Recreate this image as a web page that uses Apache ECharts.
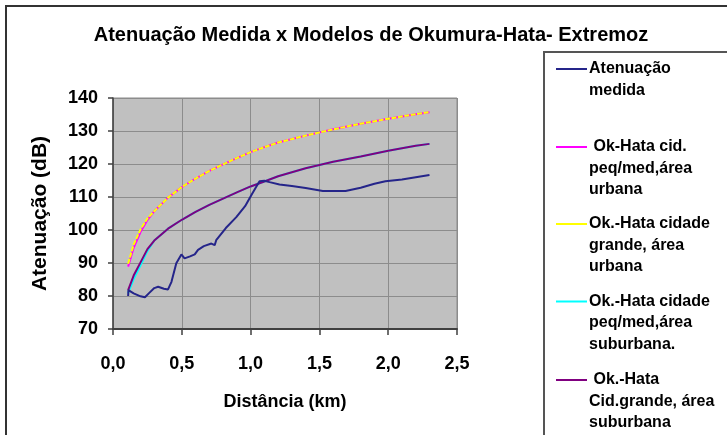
<!DOCTYPE html>
<html>
<head>
<meta charset="utf-8">
<script src="https://cdn.jsdelivr.net/npm/echarts@6.0.0/dist/echarts.min.js"></script>
<style>
html,body{margin:0;padding:0;background:#fff;}
#chart{width:727px;height:435px;}
</style>
</head>
<body>
<div id="chart"></div>
<script>
// ---- data ----
var titleText = 'Atenuação Medida x Modelos de Okumura-Hata- Extremoz';
var xName = 'Distância (km)';
var yName = 'Atenuação (dB)';
var xTicks = [0, 0.5, 1.0, 1.5, 2.0, 2.5];
var yTicks = [70, 80, 90, 100, 110, 120, 130, 140];

var seriesNames = [
  'Atenuação medida',
  ' Ok-Hata cid. peq/med,área urbana',
  'Ok.-Hata cidade grande, área urbana',
  'Ok.-Hata cidade peq/med,área suburbana.',
  ' Ok.-Hata Cid.grande, área suburbana'
];
var legendTexts = [
  'Atenuação\nmedida',
  ' Ok-Hata cid.\npeq/med,área\nurbana',
  'Ok.-Hata cidade\ngrande, área\nurbana',
  'Ok.-Hata cidade\npeq/med,área\nsuburbana.',
  ' Ok.-Hata\nCid.grande, área\nsuburbana'
];

var measDist = [0.11,0.112,0.15,0.2,0.232,0.26,0.3,0.328,0.37,0.4,0.425,0.46,0.497,0.52,0.56,0.594,0.618,0.66,0.715,0.739,0.75,0.82,0.896,0.96,1.005,1.04,1.065,1.1,1.138,1.21,1.3,1.4,1.525,1.6,1.69,1.8,1.9,1.98,2.1,2.2,2.3];
var measVals = [80,81.8,80.8,79.9,79.6,80.8,82.4,82.8,82.2,82,84.3,89.9,92.6,91.4,92.0,92.6,94,95.1,95.9,95.4,96.9,100.6,103.9,107.2,110.5,113,114.8,114.9,114.5,113.8,113.3,112.7,111.8,111.8,111.8,112.8,114,114.8,115.3,116,116.7];

var hataDist = [0.11,0.15,0.2,0.25,0.3,0.4,0.5,0.6,0.7,0.8,0.9,1.0,1.1,1.2,1.4,1.6,1.8,2.0,2.2,2.3];
var urbanSmall = [88.9,94.6,99.4,103.0,105.7,109.8,113,115.6,117.9,119.9,121.8,123.6,125.1,126.5,128.6,130.5,132.2,133.7,135.1,135.7];
var urbanLarge = [89.8,95.6,100.2,103.5,105.7,109.8,113,115.6,117.9,119.9,121.8,123.6,125.1,126.5,128.6,130.5,132.2,133.7,135.1,135.7];
var suburbSmall = [80.9,85.1,89.3,93.6,96.8,100.4,103.1,105.5,107.6,109.5,111.4,113.2,114.7,116.3,118.7,120.7,122.3,124.0,125.5,126.1];
var suburbLarge = [81.8,86.2,90.2,94.2,96.8,100.4,103.1,105.5,107.6,109.5,111.4,113.2,114.7,116.3,118.7,120.7,122.3,124.0,125.5,126.1];

var colors = ['#25258a', '#ff00ff', '#ffff00', '#00ffff', '#800080'];

// ---- build ----
function pairs(xs, ys) { return xs.map(function (x, i) { return [x, ys[i]]; }); }
var seriesData = [
  pairs(measDist, measVals),
  pairs(hataDist, urbanSmall),
  pairs(hataDist, urbanLarge),
  pairs(hataDist, suburbSmall),
  pairs(hataDist, suburbLarge)
];
var zOrder = [5, 2, 3, 2, 3];
var lineTypes = ['solid', 'solid', [5, 1.5], 'solid', 'solid'];

var FONT = '"Liberation Sans", Arial, sans-serif';
var chart = echarts.init(document.getElementById('chart'), null, {renderer: 'canvas'});

var legendY = [69, 147, 224, 301.5, 380];
var legendGraphics = [];
legendGraphics.push({
  type: 'rect', z: 0,
  shape: {x: 544, y: 52, width: 220, height: 420},
  style: {fill: '#ffffff', stroke: '#555555', lineWidth: 2}
});
legendTexts.forEach(function (t, i) {
  legendGraphics.push({
    type: 'line', z: 1,
    shape: {x1: 556, y1: legendY[i], x2: 587, y2: legendY[i]},
    style: {stroke: colors[i], lineWidth: 2}
  });
  legendGraphics.push({
    type: 'text', z: 1,
    style: {
      x: 589, y: legendY[i] - 10.75, text: t,
      font: 'bold 16px ' + FONT, lineHeight: 21.5,
      fill: '#000', verticalAlign: 'top', align: 'left'
    }
  });
});

var option = {
  backgroundColor: '#ffffff',
  animation: false,
  title: {
    text: titleText,
    left: 371, top: 25, textAlign: 'center', padding: 0,
    textStyle: {fontFamily: FONT, fontWeight: 'bold', fontSize: 20, color: '#000'}
  },
  grid: {
    left: 113, right: 270, top: 98, bottom: 106,
    show: true, backgroundColor: '#c0c0c0', borderColor: '#8a8a8a', borderWidth: 1,
    containLabel: false
  },
  xAxis: {
    type: 'value', min: xTicks[0], max: xTicks[xTicks.length - 1], interval: 0.5,
    name: xName, nameLocation: 'middle', nameGap: 64,
    nameTextStyle: {fontFamily: FONT, fontWeight: 'bold', fontSize: 18, color: '#000'},
    axisLine: {show: true, lineStyle: {color: '#404040', width: 2}},
    axisTick: {show: true, inside: false, length: 6, lineStyle: {color: '#404040', width: 1.5}},
    axisLabel: {
      margin: 26, fontFamily: FONT, fontWeight: 'bold', fontSize: 18, color: '#000',
      formatter: function (v) { return v.toFixed(1).replace('.', ','); }
    },
    splitLine: {show: true, lineStyle: {color: '#8c8c8c', width: 1}}
  },
  yAxis: {
    type: 'value', min: yTicks[0], max: yTicks[yTicks.length - 1], interval: 10,
    name: yName, nameLocation: 'middle', nameGap: 62,
    nameTextStyle: {fontFamily: FONT, fontWeight: 'bold', fontSize: 21, color: '#000'},
    axisLine: {show: true, lineStyle: {color: '#404040', width: 1.5}},
    axisTick: {show: true, inside: false, length: 5, lineStyle: {color: '#404040', width: 1.5}},
    axisLabel: {margin: 15, fontFamily: FONT, fontWeight: 'bold', fontSize: 18, color: '#000'},
    splitLine: {show: true, lineStyle: {color: '#8c8c8c', width: 1}}
  },
  series: seriesNames.map(function (n, i) {
    return {
      name: n, type: 'line', data: seriesData[i], showSymbol: false, symbol: 'none',
      z: zOrder[i], lineStyle: {color: colors[i], width: 2, type: lineTypes[i]}, itemStyle: {color: colors[i]}
    };
  }),
  graphic: [
    {
      type: 'rect', z: -1, silent: true,
      shape: {x: 6, y: 6, width: 760, height: 460},
      style: {fill: 'none', stroke: '#333333', lineWidth: 2}
    }
  ].concat(legendGraphics)
};
chart.setOption(option);
</script>
</body>
</html>
